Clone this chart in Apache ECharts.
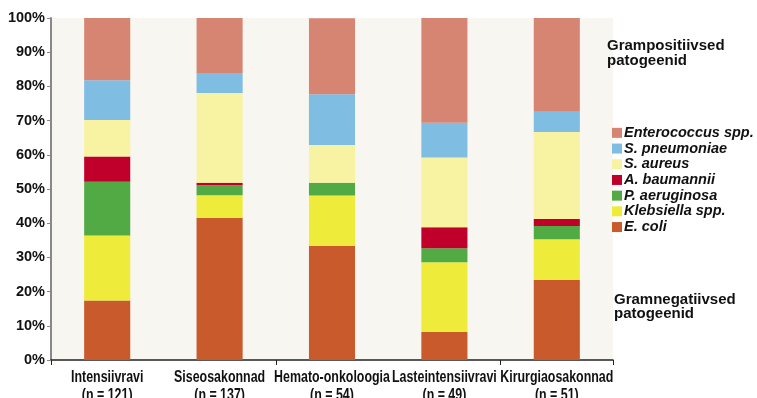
<!DOCTYPE html>
<html>
<head>
<meta charset="utf-8">
<script src="https://cdn.jsdelivr.net/npm/echarts@6/dist/echarts.min.js"></script>
<style>
  html, body { margin: 0; padding: 0; background: #ffffff; }
  #chart { width: 757px; height: 398px; }
</style>
</head>
<body>
<div id="chart"></div>
<script>
// Hospital departments with the number of isolates
const categories = [
  'Intensiivravi\n(n = 121)',
  'Siseosakonnad\n(n = 137)',
  'Hemato-onkoloogia\n(n = 54)',
  'Lasteintensiivravi\n(n = 49)',
  'Kirurgiaosakonnad\n(n = 51)'
];

// Share of each pathogen per department, % (stacked bottom to top)
const eColi        = [17.4, 41.6, 33.3,  8.2, 23.5];
const klebsiella   = [19.0,  6.6, 14.8, 20.4, 11.8];
const pAeruginosa  = [15.7,  2.9,  3.7,  4.1,  3.9];
const aBaumannii   = [ 7.4,  0.7,  0.0,  6.1,  2.0];
const sAureus      = [10.7, 26.3, 11.1, 20.4, 25.5];
const sPneumoniae  = [11.6,  5.8, 14.8, 10.2,  5.9];
const enterococcus = [18.2, 16.1, 22.2, 30.6, 27.5];

const yTicks = [0, 10, 20, 30, 40, 50, 60, 70, 80, 90, 100];

const seriesDefs = [
  { name: 'E. coli',           data: eColi,        color: '#c85a2b' },
  { name: 'Klebsiella spp.',   data: klebsiella,   color: '#efeb3a' },
  { name: 'P. aeruginosa',     data: pAeruginosa,  color: '#52aa45' },
  { name: 'A. baumannii',      data: aBaumannii,   color: '#c0002a' },
  { name: 'S. aureus',         data: sAureus,      color: '#f8f3a2' },
  { name: 'S. pneumoniae',     data: sPneumoniae,  color: '#7fbde2' },
  { name: 'Enterococcus spp.', data: enterococcus, color: '#d78573' }
];

const chart = echarts.init(document.getElementById('chart'), null, { renderer: 'canvas' });

const labelFont = '"Liberation Sans", Arial, Helvetica, sans-serif';

chart.setOption({
  backgroundColor: '#ffffff',
  animation: false,
  grid: {
    left: 51, right: 144, top: 18, bottom: 38,
    show: true, backgroundColor: '#f7f6f0', borderWidth: 0
  },
  legend: {
    orient: 'vertical',
    left: 607, top: 120,
    itemWidth: 10, itemHeight: 10, itemGap: 0,
    icon: 'rect',
    data: seriesDefs.map(s => s.name).reverse(),
    textStyle: {
      fontFamily: labelFont, fontSize: 14.5, fontWeight: 'bold',
      fontStyle: 'italic', color: '#111', padding: [0, 0, 0, -3], lineHeight: 15.7
    }
  },
  xAxis: {
    type: 'category',
    data: categories,
    axisLine: { lineStyle: { color: '#222', width: 1.5 } },
    axisTick: { show: true, length: 5, lineStyle: { color: '#222' } },
    // category names are drawn below as horizontally condensed text
    axisLabel: { show: false }
  },
  yAxis: {
    type: 'value',
    min: yTicks[0], max: yTicks[yTicks.length - 1], interval: 10,
    axisLine: { show: true, lineStyle: { color: '#888', width: 2 } },
    axisTick: { show: true, length: 4, lineStyle: { color: '#888' } },
    splitLine: { show: false },
    axisLabel: {
      margin: 6,
      formatter: v => v + '%',
      fontFamily: labelFont, fontSize: 14.5, fontWeight: 'bold', color: '#111'
    }
  },
  series: seriesDefs.map(s => ({
    name: s.name,
    type: 'bar',
    stack: 'total',
    barWidth: '41%',
    data: s.data,
    itemStyle: { color: s.color },
    emphasis: { disabled: true }
  }))
});

// Condensed bold category labels, placed at each category's pixel position
const baseY = chart.convertToPixel({ yAxisIndex: 0 }, 0);
const catLabels = categories.map((c, i) => ({
  type: 'text',
  x: chart.convertToPixel({ xAxisIndex: 0 }, i),
  y: baseY + 8,
  scaleX: 0.73,
  silent: true,
  style: {
    text: c,
    font: 'bold 17px ' + labelFont,
    fill: '#111',
    align: 'center',
    verticalAlign: 'top',
    lineHeight: 18
  }
}));

chart.setOption({
  graphic: [
    {
      type: 'text', left: 607, top: 38,
      style: {
        text: 'Grampositiivsed\npatogeenid',
        font: 'bold 15px ' + labelFont, fill: '#111', lineHeight: 15
      }
    },
    {
      type: 'text', left: 614, top: 292,
      style: {
        text: 'Gramnegatiivsed\npatogeenid',
        font: 'bold 15px ' + labelFont, fill: '#111', lineHeight: 14
      }
    }
  ].concat(catLabels)
});
</script>
</body>
</html>
